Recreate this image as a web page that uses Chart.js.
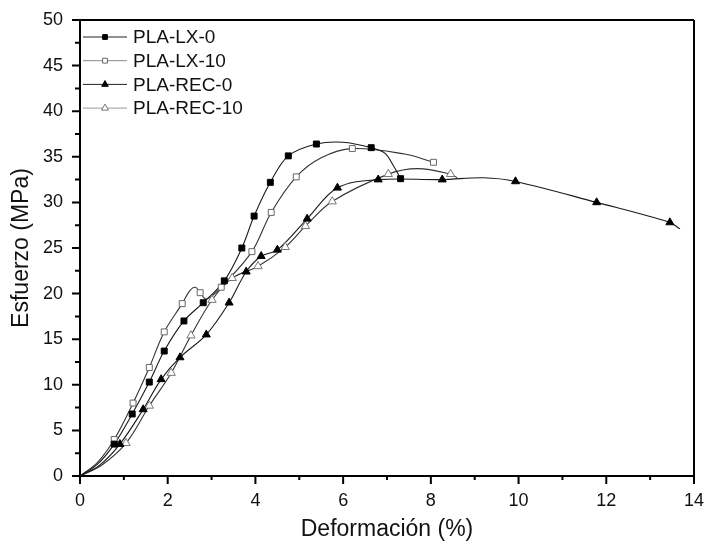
<!DOCTYPE html>
<html>
<head>
<meta charset="utf-8">
<script src="https://cdn.jsdelivr.net/npm/chart.js@4/dist/chart.umd.min.js"></script>
<style>
  html, body { margin: 0; padding: 0; background: #fff; }
  #wrap { width: 704px; height: 543px; }
</style>
</head>
<body>
<div id="wrap"><canvas id="chart"></canvas></div>
<script>
// values: [deformación %, esfuerzo MPa]
// "Marks" are the points carrying a symbol, "Extra" are curve points without one
const lx0Marks = [[0.78,3.5],[1.19,6.8],[1.58,10.3],[1.92,13.7],[2.37,17.0],[2.81,19.0],[3.29,21.4],[3.69,25.0],[3.97,28.5],[4.34,32.2],[4.75,35.1],[5.39,36.4],[6.64,36.0],[7.31,32.6]];
const lx0Extra = [[0,0],[0.4,1.3],[6.0,36.6],[6.95,35.4],[7.15,34.0]];

const lx10Marks = [[0.78,4.0],[1.21,8.0],[1.58,11.9],[1.92,15.8],[2.33,18.9],[2.74,20.1],[3.22,20.7],[3.92,24.6],[4.36,28.9],[4.93,32.8],[6.21,35.9],[8.06,34.4]];
const lx10Extra = [[0,0],[0.4,1.5],[2.5,20.3],[2.63,20.7],[2.86,19.4],[3.0,19.7],[5.5,34.9],[7.4,35.3]];

const rec0Marks = [[0.91,3.5],[1.44,7.3],[1.85,10.6],[2.28,13.0],[2.88,15.5],[3.40,19.0],[3.79,22.4],[4.13,24.1],[4.50,24.8],[5.18,28.2],[5.87,31.6],[6.8,32.5],[8.26,32.5],[9.93,32.3],[11.78,30.0],[13.45,27.8]];
const rec0Extra = [[0,0],[0.45,1.2],[9.2,32.7],[13.68,27.1]];

const rec10Marks = [[1.05,3.6],[1.58,7.7],[2.08,11.3],[2.53,15.4],[3.01,19.3],[3.47,21.7],[4.06,23.0],[4.68,25.1],[5.14,27.4],[5.75,30.1],[7.03,33.1],[8.45,33.1]];
const rec10Extra = [[0,0],[0.5,1.2],[7.7,33.7],[8.6,32.7]];

const seriesNames = ['PLA-LX-0', 'PLA-LX-10', 'PLA-REC-0', 'PLA-REC-10'];

const FONT = "'Liberation Sans', Arial, sans-serif";

const toXY = arr => arr.map(p => ({ x: p[0], y: p[1] }));
const curve = (marks, extra) => toXY([...marks, ...extra].sort((a, b) => a[0] - b[0]));

const styles = [
    { line: '#1a1a1a', style: 'rect', fill: '#000', stroke: '#000', r: 4.2 },
    { line: '#333', style: 'rect', fill: '#fff', stroke: '#666', r: 4.2 },
    { line: '#1a1a1a', style: 'triangle', fill: '#000', stroke: '#000', r: 4.6 },
    { line: '#333', style: 'triangle', fill: '#fff', stroke: '#777', r: 4.8 }
];
const legendLine = ['#222', '#888', '#222', '#999'];

const allMarks = [lx0Marks, lx10Marks, rec0Marks, rec10Marks];
const allExtra = [lx0Extra, lx10Extra, rec0Extra, rec10Extra];

const datasets = [];
seriesNames.forEach((name, i) => {
    datasets.push({
        label: name,
        data: curve(allMarks[i], allExtra[i]),
        showLine: true,
        borderColor: styles[i].line,
        borderWidth: 1.1,
        pointRadius: 0,
        tension: 0.35,
        fill: false,
        order: 2
    });
});
seriesNames.forEach((name, i) => {
    datasets.push({
        label: name + ' marks',
        data: toXY(allMarks[i]),
        showLine: false,
        pointStyle: styles[i].style,
        pointRadius: styles[i].r,
        pointBackgroundColor: styles[i].fill,
        pointBorderColor: styles[i].stroke,
        pointBorderWidth: 1,
        order: 1
    });
});

// frame on top/right, outward major and minor ticks, and the legend inside the plot
const framePlugin = {
    id: 'frame',
    afterDraw(chart) {
        const { ctx, chartArea: a, scales } = chart;
        const xs = scales.x, ys = scales.y;
        ctx.save();
        ctx.strokeStyle = '#000';
        ctx.lineWidth = 2;
        ctx.beginPath();
        ctx.moveTo(a.left, a.top); ctx.lineTo(a.right, a.top);
        ctx.moveTo(a.right, a.top); ctx.lineTo(a.right, a.bottom);
        ctx.stroke();

        ctx.beginPath();
        for (let v = 0; v <= 14; v += 1) {
            const px = xs.getPixelForValue(v);
            const len = v % 2 === 0 ? 8 : 4;
            ctx.moveTo(px, a.bottom); ctx.lineTo(px, a.bottom + len);
        }
        for (let v = 0; v <= 50; v += 2.5) {
            const py = ys.getPixelForValue(v);
            const len = v % 5 === 0 ? 8 : 5;
            ctx.moveTo(a.left, py); ctx.lineTo(a.left - len, py);
        }
        ctx.stroke();

        // legend
        const lx = a.left + 3, ly = a.top + 17, step = 23.7;
        seriesNames.forEach((name, i) => {
            const y = ly + i * step;
            ctx.strokeStyle = legendLine[i];
            ctx.lineWidth = 1;
            ctx.beginPath();
            ctx.moveTo(lx, y); ctx.lineTo(lx + 44, y);
            ctx.stroke();
            ctx.fillStyle = styles[i].fill;
            ctx.strokeStyle = styles[i].stroke;
            Chart.helpers.drawPoint(ctx, {
                pointStyle: styles[i].style,
                radius: styles[i].r - 0.8,
                borderWidth: 1
            }, lx + 22, y);
            ctx.fillStyle = '#111';
            ctx.font = '19px ' + FONT;
            ctx.textBaseline = 'middle';
            ctx.textAlign = 'left';
            ctx.fillText(name, lx + 50, y + 1);
        });
        ctx.restore();
    }
};

new Chart(document.getElementById('chart'), {
    type: 'scatter',
    data: { datasets },
    options: {
        responsive: true,
        maintainAspectRatio: false,
        animation: false,
        layout: { padding: { top: 20, right: 10, left: 0, bottom: 0 } },
        plugins: { legend: { display: false }, tooltip: { enabled: false } },
        scales: {
            x: {
                type: 'linear',
                min: 0, max: 14,
                afterFit: s => { s.height = 67; s.paddingLeft = 0; s.paddingRight = 0; },
                grid: { display: false, drawTicks: false },
                border: { display: true, color: '#000', width: 2 },
                ticks: { stepSize: 2, padding: 14, color: '#111', font: { family: FONT, size: 18 } },
                title: { display: true, text: 'Deformación (%)', color: '#111', padding: { top: 0, bottom: 0 }, font: { family: FONT, size: 23 } }
            },
            y: {
                type: 'linear',
                min: 0, max: 50,
                afterFit: s => { s.width = 80; s.paddingTop = 0; s.paddingBottom = 0; },
                grid: { display: false, drawTicks: false },
                border: { display: true, color: '#000', width: 2 },
                ticks: { stepSize: 5, padding: 17, color: '#111', font: { family: FONT, size: 18 } },
                title: { display: true, text: 'Esfuerzo (MPa)', color: '#111', padding: { top: 8, bottom: 0 }, font: { family: FONT, size: 23 } }
            }
        }
    },
    plugins: [framePlugin]
});
</script>
</body>
</html>
